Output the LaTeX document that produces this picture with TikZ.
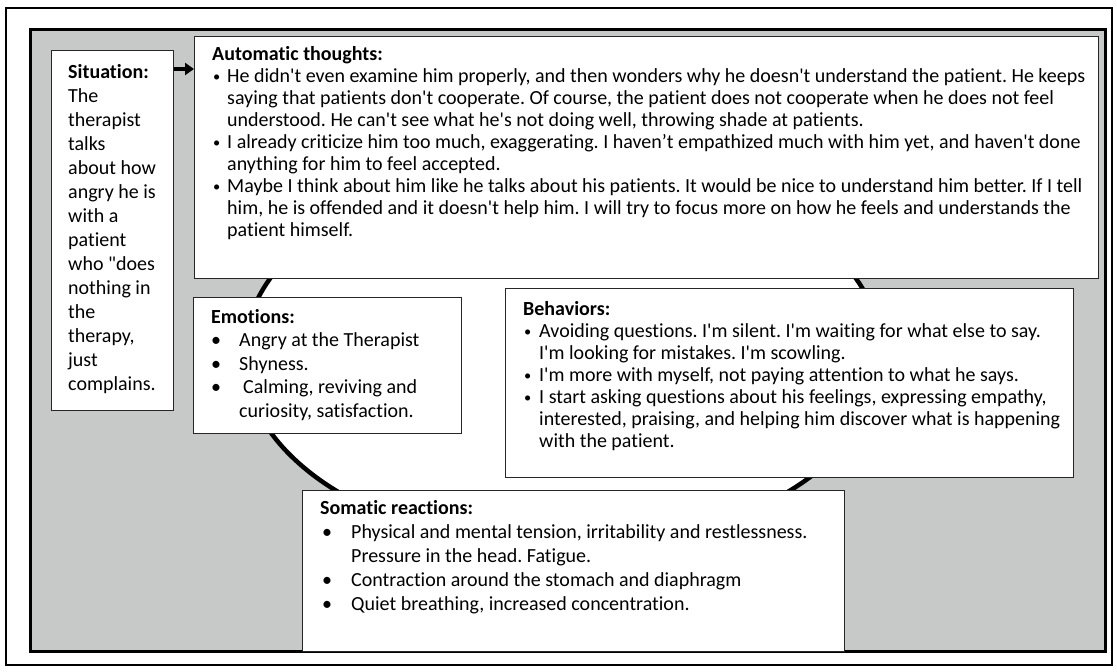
\documentclass[tikz,border=0pt]{standalone}
\usepackage{fontspec}
\usepackage{graphicx}
\setmainfont{Carlito}[Ligatures={TeXOff,NoCommon}]
\usetikzlibrary{arrows.meta}
\definecolor{panel}{RGB}{199,200,200}
\newcommand{\fst}{\rule{0pt}{16pt}}
\newcommand{\bl}[1]{\makebox[#1][l]{\textbullet}}
\newcommand{\sbl}[1]{\makebox[#1][l]{\raisebox{1pt}{\scalebox{0.72}{\textbullet}}}}
\frenchspacing
\begin{document}
\begin{tikzpicture}[x=1pt,y=-1pt,
  box/.style={draw=black!85, line width=1.3pt, fill=white, anchor=north west, inner sep=0pt},
  txt/.style={anchor=north west, inner sep=0pt, align=left},
]
\useasboundingbox (0,0) rectangle (1117,672);
\draw[line width=2.5pt] (6,8) rectangle (1112,665);
\draw[fill=panel, line width=3pt] (30,29) rectangle (1105,651);
\draw[fill=white, line width=4.5pt] (563,355) ellipse [x radius=319, y radius=193];

\node[box, minimum width=122, minimum height=360] (sit) at (51,50) {};
\node[box, minimum width=904, minimum height=242] (auto) at (194,36) {};
\node[box, minimum width=268, minimum height=136] (emo) at (193,297) {};
\node[box, minimum width=568, minimum height=189] (beh) at (505,288) {};
\node[box, minimum width=542, minimum height=161] (som) at (302,490) {};

\coordinate (ay) at (0,69);
\draw[line width=4pt, -{Triangle[length=9pt,width=12pt]}] (sit.east |- ay) -- (auto.west |- ay);

\node[txt, font=\fontsize{20}{24}\selectfont] (sittxt) at (68,62) {\fst\textbf{Situation:}\\The\\therapist\\talks\\about how\\angry he is\\with a\\patient\\who "does\\nothing in\\the\\therapy,\\just\\complains.};

\node[txt, font=\fontsize{20}{22}\selectfont] (autotxt) at (212,44) {\fst\textbf{Automatic thoughts:}\\
\hspace*{1pt}\sbl{14pt}He didn't even examine him properly, and then wonders why he doesn't understand the patient. He keeps\\
\hspace*{15pt}saying that patients don't cooperate. Of course, the patient does not cooperate when he does not feel\\
\hspace*{15pt}understood. He can't see what he's not doing well, throwing shade at patients.\\
\hspace*{1pt}\sbl{14pt}I already criticize him too much, exaggerating. I haven’t empathized much with him yet, and haven't done\\
\hspace*{15pt}anything for him to feel accepted.\\
\hspace*{1pt}\sbl{14pt}Maybe I think about him like he talks about his patients. It would be nice to understand him better. If I tell\\
\hspace*{15pt}him, he is offended and it doesn't help him. I will try to focus more on how he feels and understands the\\
\hspace*{15pt}patient himself.};

\node[txt, font=\fontsize{20}{23.5}\selectfont] (emotxt) at (211,307) {\fst\textbf{Emotions:}\\
\bl{28pt}Angry at the Therapist\\
\bl{28pt}Shyness.\\
\bl{28pt}\hspace*{4pt}Calming, reviving and\\
\hspace*{28pt}curiosity, satisfaction.};

\node[txt, font=\fontsize{20}{22}\selectfont] (behtxt) at (523,299) {\fst\textbf{Behaviors:}\\
\hspace*{1pt}\sbl{15pt}Avoiding questions. I'm silent. I'm waiting for what else to say.\\
\hspace*{16pt}I'm looking for mistakes. I'm scowling.\\
\hspace*{1pt}\sbl{15pt}I'm more with myself, not paying attention to what he says.\\
\hspace*{1pt}\sbl{15pt}I start asking questions about his feelings, expressing empathy,\\
\hspace*{16pt}interested, praising, and helping him discover what is happening\\
\hspace*{16pt}with the patient.};

\node[txt, font=\fontsize{20}{24}\selectfont] (somtxt) at (320,498) {\fst\textbf{Somatic reactions:}\\
\hspace*{2pt}\bl{29pt}Physical and mental tension, irritability and restlessness.\\
\hspace*{31pt}Pressure in the head. Fatigue.\\
\hspace*{2pt}\bl{29pt}Contraction around the stomach and diaphragm\\
\hspace*{2pt}\bl{29pt}Quiet breathing, increased concentration.};
\end{tikzpicture}
\end{document}
